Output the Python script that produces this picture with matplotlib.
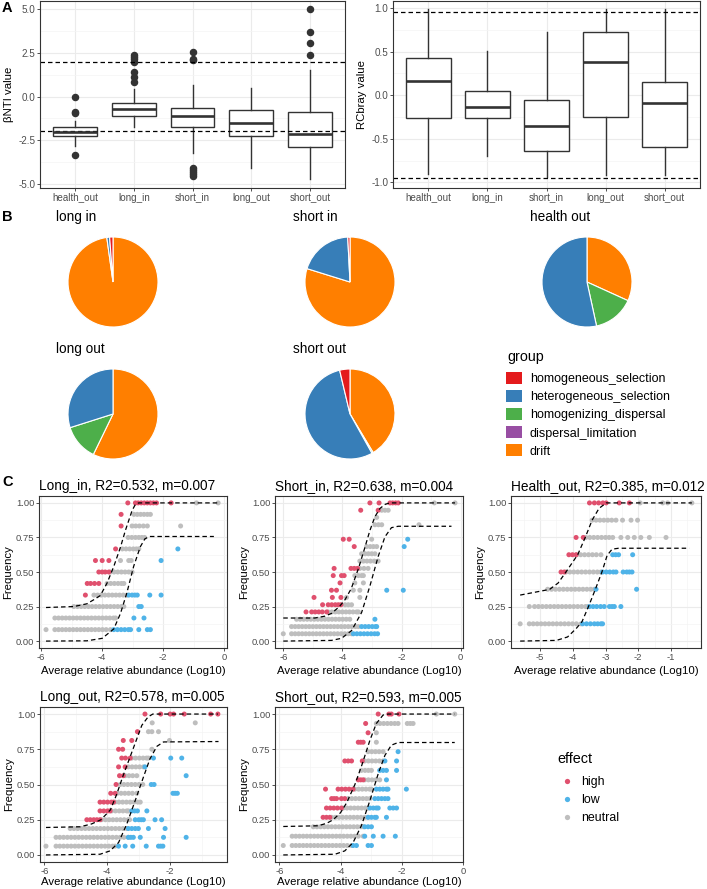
import matplotlib
matplotlib.use('Agg')
import matplotlib.pyplot as plt
from matplotlib.patches import Patch
from matplotlib.lines import Line2D
import numpy as np

plt.rcParams['font.family'] = ['Liberation Sans', 'DejaVu Sans']

# ---------------- Panel A data ----------------
groups = ['health_out', 'long_in', 'short_in', 'long_out', 'short_out']
bnti_q1 = [-2.27, -1.12, -1.73, -2.27, -2.90]
bnti_med = [-2.03, -0.70, -1.12, -1.50, -2.13]
bnti_q3 = [-1.73, -0.35, -0.68, -0.79, -0.89]
bnti_lo = [-2.84, -1.75, -3.26, -4.08, -4.75]
bnti_hi = [-1.41, 0.45, 0.66, 0.51, 1.52]
bnti_out = [[0.0, -0.89, -0.97, -3.37],
            [0.83, 1.14, 1.42, 2.0, 2.13, 2.27, 2.38],
            [2.55, 2.15, 2.10, -4.08, -4.20, -4.32, -4.45, -4.56],
            [],
            [5.0, 3.70, 3.07, 2.36]]
bnti_thresholds = [2, -2]

rc_q1 = [-0.26, -0.26, -0.64, -0.25, -0.59]
rc_med = [0.166, -0.14, -0.35, 0.38, -0.09]
rc_q3 = [0.43, 0.05, -0.06, 0.73, 0.15]
rc_lo = [-0.91, -0.70, -0.94, -0.92, -0.92]
rc_hi = [0.99, 0.51, 0.73, 0.99, 0.99]
rc_thresholds = [0.95, -0.95]

# ---------------- Panel B data ----------------
group_names = ['homogeneous_selection', 'heterogeneous_selection',
               'homogenizing_dispersal', 'dispersal_limitation', 'drift']
group_colors = ['#E41A1C', '#377EB8', '#4DAF4A', '#984EA3', '#FF7F00']
pie_titles = ['long in', 'short in', 'health out', 'long out', 'short out']
pie_long_in = [0.012, 0.010, 0.0, 0.0, 0.978]
pie_short_in = [0.008, 0.194, 0.0, 0.0, 0.798]
pie_health_out = [0.0, 0.534, 0.148, 0.0, 0.318]
pie_long_out = [0.0, 0.299, 0.129, 0.0, 0.572]
pie_short_out = [0.037, 0.544, 0.005, 0.0, 0.414]

# ---------------- Panel C data ----------------
# rows: (frequency, [log10 mean relative abundance ...])
long_in_title = 'Long_in, R2=0.532, m=0.007'
long_in_high = [
    (1.000, [-3.16, -2.91, -2.82, -2.72, -2.62, -2.52, -2.42, -2.32, -2.22, -1.74]),
    (0.917, [-3.38]), (0.833, [-3.38]), (0.667, [-3.56]),
    (0.583, [-4.22, -4.00, -3.78]),
    (0.500, [-4.11, -4.00, -3.90, -3.78]),
    (0.417, [-4.49, -4.38, -4.25, -4.11]),
    (0.333, [-4.55])]
long_in_low = [
    (0.667, [-1.52]), (0.583, [-2.07]),
    (0.333, [-3.13, -3.02, -2.93, -2.85, -2.44, -2.07]),
    (0.250, [-2.80, -2.72]),
    (0.167, [-2.96, -2.63]),
    (0.083, [-3.62, -3.50, -3.38, -3.26, -3.14, -3.07, -2.80, -2.52, -2.42])]
long_in_neutral = [
    (1.000, [-0.91, -0.20]),
    (0.917, [-2.96, -2.85, -2.74, -2.63, -2.52, -2.42]),
    (0.833, [-3.02, -2.90, -2.78, -2.65, -2.52, -1.43]),
    (0.750, [-3.15, -3.03, -2.91, -2.80, -2.70, -2.61]),
    (0.667, [-3.34, -3.22, -3.10, -2.98, -2.88, -2.80]),
    (0.583, [-3.40, -3.13, -3.05]),
    (0.500, [-3.73, -3.61, -3.49, -3.37, -3.25, -3.13, -3.02]),
    (0.417, [-3.84, -3.72, -3.60, -3.48, -3.37, -3.29]),
    (0.333, [-4.27, -4.15, -4.03, -3.91, -3.79, -3.67, -3.55, -3.43, -3.31, -3.19]),
    (0.250, [-4.93, -4.81, -4.69, -4.57, -4.45, -4.33, -4.21, -4.09, -3.97, -3.85,
             -3.73, -3.61, -3.49, -3.37, -3.29]),
    (0.167, [-5.55, -5.43, -5.31, -5.19, -5.07, -4.95, -4.83, -4.71, -4.59, -4.47,
             -4.35, -4.23, -4.11, -3.99, -3.87, -3.75, -3.63, -3.56]),
    (0.083, [-5.84, -5.55, -5.43, -5.31, -5.19, -5.07, -4.95, -4.83, -4.71, -4.59,
             -4.47, -4.35, -4.23, -4.11, -3.99, -3.87, -3.73])]
long_in_upper = [(-5.84, 0.243), (-4.93, 0.25), (-4.50, 0.27), (-4.27, 0.30), (-4.06, 0.33),
                 (-3.84, 0.42), (-3.62, 0.54), (-3.40, 0.68), (-3.24, 0.80), (-3.02, 0.945),
                 (-2.91, 0.99), (-2.80, 1.0), (-0.20, 1.0)]
long_in_lower = [(-5.84, 0.0), (-4.50, 0.002), (-4.00, 0.02), (-3.62, 0.088), (-3.40, 0.20),
                 (-3.19, 0.35), (-2.97, 0.54), (-2.75, 0.683), (-2.60, 0.74), (-2.45, 0.757),
                 (-0.34, 0.757)]

short_in_title = 'Short_in, R2=0.638, m=0.004'
short_in_high = [
    (1.000, [-3.07, -2.76, -2.39, -2.30, -2.20, -2.11]),
    (0.947, [-3.38, -2.79]),
    (0.737, [-3.97, -3.77]),
    (0.684, [-3.60]),
    (0.526, [-4.28, -3.71, -3.60, -3.49]),
    (0.474, [-4.31, -4.03, -3.94]),
    (0.421, [-4.08]),
    (0.368, [-4.37, -4.20]),
    (0.316, [-4.96, -4.34, -4.05]),
    (0.263, [-4.67, -4.48, -4.36, -4.24, -4.14, -4.05]),
    (0.211, [-5.23, -5.04, -4.92, -4.80, -4.68, -4.53])]
short_in_low = [
    (0.737, [-1.79]), (0.684, [-1.91]),
    (0.368, [-2.50, -1.94]),
    (0.158, [-2.90]),
    (0.105, [-3.35, -3.23, -3.11, -2.99, -2.88, -2.84]),
    (0.053, [-3.63, -3.51, -3.39, -3.27, -3.15, -3.03, -2.91, -2.81])]
short_in_neutral = [
    (1.000, [-0.89, -0.19]),
    (0.947, [-2.67, -2.56, -2.45]),
    (0.895, [-2.84]),
    (0.842, [-2.90, -2.78, -2.67, -1.41]),
    (0.737, [-3.01]),
    (0.684, [-3.18, -3.06, -2.95, -2.84]),
    (0.632, [-3.35, -3.23, -3.12, -3.01, -2.90]),
    (0.579, [-3.41, -3.29, -3.17, -3.05, -2.92, -2.79]),
    (0.526, [-3.41, -3.27, -3.13]),
    (0.474, [-3.58, -3.46, -3.35, -3.29]),
    (0.421, [-3.58, -3.29]),
    (0.368, [-3.63, -3.41]),
    (0.316, [-3.86, -3.41]),
    (0.263, [-3.91, -3.80, -3.69]),
    (0.211, [-4.48, -4.36, -4.24, -4.12, -4.00, -3.88, -3.76, -3.64, -3.52, -3.46]),
    (0.158, [-5.55, -5.43, -5.31, -5.19, -5.07, -4.95, -4.83, -4.71, -4.59, -4.47,
             -4.35, -4.23, -4.11, -3.99, -3.87, -3.75]),
    (0.105, [-5.72, -5.60, -5.48, -5.36, -5.24, -5.12, -5.00, -4.88, -4.76, -4.64,
             -4.52, -4.40, -4.28, -4.16, -4.04, -3.92, -3.80, -3.68, -3.56, -3.46]),
    (0.053, [-6.00, -5.72, -5.60, -5.48, -5.36, -5.24, -5.12, -5.00, -4.88, -4.76,
             -4.64, -4.52, -4.40, -4.28, -4.16, -4.04, -3.92, -3.80, -3.69])]
short_in_upper = [(-6.00, 0.167), (-4.93, 0.167), (-4.60, 0.18), (-4.37, 0.20), (-4.10, 0.25),
                  (-3.91, 0.30), (-3.70, 0.38), (-3.45, 0.53), (-3.25, 0.67), (-3.07, 0.80),
                  (-2.90, 0.90), (-2.73, 0.96), (-2.55, 0.99), (-2.39, 1.0), (-0.19, 1.0)]
short_in_lower = [(-6.00, 0.0), (-4.37, 0.005), (-4.03, 0.02), (-3.69, 0.076), (-3.35, 0.207),
                  (-3.07, 0.398), (-2.79, 0.612), (-2.56, 0.755), (-2.34, 0.821), (-2.11, 0.831),
                  (-0.31, 0.831)]

health_out_title = 'Health_out, R2=0.385, m=0.012'
health_out_high = [
    (1.000, [-3.49, -3.34, -3.21, -3.08, -2.98, -2.58, -2.27]),
    (0.750, [-3.90, -3.68]),
    (0.625, [-4.12, -4.01, -3.90]),
    (0.500, [-4.36, -4.26])]
health_out_low = [
    (0.625, [-2.78, -2.69, -2.60, -2.17]),
    (0.500, [-3.09, -2.98, -2.87, -2.76, -2.68, -2.46, -2.35, -2.27, -2.19]),
    (0.375, [-3.29, -2.05]),
    (0.250, [-3.49, -3.38, -3.27, -3.15, -3.04, -2.88, -2.80, -2.73, -2.53]),
    (0.125, [-3.70, -3.58, -3.46, -3.34, -3.24, -3.14, -3.09])]
health_out_neutral = [
    (1.000, [-1.94, -1.25, -1.10, -0.36]),
    (0.875, [-3.41, -3.29, -3.17, -3.05, -2.93, -2.81, -2.68, -2.48, -2.22, -2.02]),
    (0.750, [-3.60, -3.48, -3.36, -3.24, -3.12, -3.00, -2.89, -2.78, -2.53, -2.32,
             -2.12, -1.92, -1.66, -1.15]),
    (0.625, [-3.88, -3.76, -3.64, -3.52, -3.40, -3.28, -3.14]),
    (0.500, [-4.21, -4.09, -3.97, -3.85, -3.73, -3.61, -3.49, -3.37, -3.25, -3.14]),
    (0.375, [-4.77, -4.65, -4.53, -4.41, -4.29, -4.17, -4.05, -3.93, -3.81, -3.69,
             -3.57, -3.45, -3.34]),
    (0.250, [-5.33, -5.17, -5.05, -4.93, -4.81, -4.69, -4.57, -4.45, -4.33, -4.21,
             -4.09, -3.97, -3.85, -3.73, -3.61, -3.54]),
    (0.125, [-5.61, -5.33, -5.21, -5.09, -4.97, -4.85, -4.73, -4.61, -4.49, -4.37,
             -4.25, -4.13, -4.01, -3.89, -3.75])]
health_out_upper = [(-5.61, 0.333), (-4.71, 0.374), (-4.45, 0.42), (-4.21, 0.50),
                    (-3.85, 0.625), (-3.62, 0.75), (-3.41, 0.875), (-3.20, 0.96),
                    (-2.98, 1.0), (-0.36, 1.0)]
health_out_lower = [(-5.61, 0.0), (-4.50, 0.005), (-4.16, 0.03), (-3.90, 0.09), (-3.72, 0.14),
                    (-3.52, 0.25), (-3.31, 0.375), (-3.11, 0.50), (-2.95, 0.62), (-2.80, 0.665),
                    (-2.60, 0.672), (-0.44, 0.672)]

long_out_title = 'Long_out, R2=0.578, m=0.005'
long_out_high = [
    (1.000, [-2.80, -2.30, -2.00, -1.89, -1.55, -0.71, -0.48]),
    (0.875, [-3.04]),
    (0.8125, [-3.49, -3.22]),
    (0.750, [-3.64, -3.51]),
    (0.6875, [-3.54, -3.42, -3.27]),
    (0.625, [-3.64, -3.43]),
    (0.5625, [-3.61, -3.49]),
    (0.500, [-3.72]),
    (0.4375, [-3.89, -3.75]),
    (0.375, [-4.23, -4.11, -3.99, -3.87, -3.80]),
    (0.3125, [-4.23, -4.11, -3.99, -3.91]),
    (0.250, [-4.65, -4.54, -4.43, -4.33, -4.23])]
long_out_low = [
    (0.6875, [-2.53, -1.98, -1.63]),
    (0.625, [-2.80]),
    (0.5625, [-1.49]),
    (0.500, [-2.60, -2.51]),
    (0.4375, [-1.91, -1.84, -1.77]),
    (0.3125, [-3.22, -3.13, -3.04, -2.74]),
    (0.250, [-3.11, -3.00, -2.92, -2.85, -2.48, -2.27]),
    (0.1875, [-3.33, -3.22, -3.11, -3.01, -2.69, -2.16]),
    (0.125, [-3.33, -3.25, -3.17, -2.95, -2.21, -1.49]),
    (0.0625, [-3.64, -3.43, -3.19, -2.76, -2.37, -2.30, -2.23])]
long_out_neutral = [
    (0.9375, [-2.57, -1.20]),
    (0.875, [-2.69, -2.58, -2.37]),
    (0.8125, [-2.02]),
    (0.750, [-2.58]),
    (0.6875, [-3.22, -3.10, -2.98, -2.86, -2.75, -2.69]),
    (0.625, [-3.33, -3.21, -3.09, -2.97, -2.85]),
    (0.5625, [-3.43, -3.31, -3.19, -3.06]),
    (0.500, [-3.59, -3.47, -3.35, -3.23, -3.11, -2.99, -2.87]),
    (0.4375, [-3.68, -3.56, -3.44, -3.32, -3.20, -3.06]),
    (0.375, [-3.75, -3.63, -3.51, -3.39, -3.27, -3.15, -3.03, -2.95]),
    (0.3125, [-3.86, -3.74, -3.62, -3.50, -3.38, -3.33]),
    (0.250, [-4.18, -4.06, -3.94, -3.82, -3.70, -3.58, -3.46, -3.34, -3.29]),
    (0.1875, [-5.18, -5.06, -4.94, -4.82, -4.70, -4.58, -4.46, -4.34, -4.22, -4.10,
              -3.98, -3.86, -3.74, -3.62, -3.50, -3.38]),
    (0.125, [-5.63, -5.51, -5.39, -5.27, -5.15, -5.03, -4.91, -4.79, -4.67, -4.55,
             -4.43, -4.31, -4.19, -4.07, -3.95, -3.83, -3.71, -3.59, -3.47, -3.33]),
    (0.0625, [-5.95, -5.63, -5.51, -5.39, -5.27, -5.15, -5.03, -4.91, -4.79, -4.67,
              -4.55, -4.43, -4.31, -4.19, -4.07, -3.95, -3.83, -3.75])]
long_out_upper = [(-5.95, 0.195), (-4.86, 0.20), (-4.50, 0.22), (-4.20, 0.25), (-3.90, 0.32),
                  (-3.70, 0.43), (-3.50, 0.56), (-3.30, 0.68), (-3.10, 0.80), (-2.90, 0.92),
                  (-2.70, 0.98), (-2.55, 1.0), (-0.48, 1.0)]
long_out_lower = [(-5.95, 0.0), (-4.23, 0.005), (-3.91, 0.029), (-3.64, 0.088), (-3.38, 0.219),
                  (-3.11, 0.386), (-2.85, 0.552), (-2.64, 0.683), (-2.42, 0.771), (-2.21, 0.802),
                  (-0.46, 0.805)]

short_out_title = 'Short_out, R2=0.593, m=0.005'
short_out_high = [
    (1.000, [-2.77, -2.42, -2.34, -2.09]),
    (0.933, [-3.18]),
    (0.867, [-3.10]),
    (0.800, [-3.42, -3.34, -3.26]),
    (0.667, [-3.86, -3.75, -3.64, -3.29]),
    (0.533, [-3.42, -3.34, -3.26]),
    (0.467, [-4.49, -4.08, -3.96, -3.84, -3.72, -3.59]),
    (0.400, [-4.29, -4.21, -4.13, -3.97, -3.86]),
    (0.333, [-4.46, -4.34, -4.22, -4.10, -3.97]),
    (0.267, [-4.57, -4.46, -4.35])]
short_out_low = [
    (0.733, [-2.12]),
    (0.667, [-2.55, -2.17]),
    (0.600, [-2.72, -2.61, -2.50, -2.17]),
    (0.533, [-2.50]),
    (0.467, [-2.83, -2.72, -2.61, -2.50, -2.45, -1.85]),
    (0.400, [-2.88, -2.77, -2.66, -2.55, -2.45]),
    (0.333, [-3.04, -2.93, -2.83, -2.77, -2.39, -2.28, -2.17]),
    (0.267, [-3.10, -2.99, -2.88, -2.83, -2.50]),
    (0.200, [-3.21, -3.10, -2.99]),
    (0.133, [-3.21, -2.93, -2.61, -2.21]),
    (0.067, [-3.59, -3.48, -3.10, -2.99])]
short_out_neutral = [
    (1.000, [-0.87, -0.27]),
    (0.933, [-2.83, -2.71, -2.59, -2.47, -2.35, -2.23, -2.12, -1.82, -1.72, -1.63]),
    (0.867, [-2.83]),
    (0.800, [-2.83]),
    (0.733, [-3.10, -2.98, -2.86, -2.74, -2.61]),
    (0.667, [-3.21, -3.09, -2.97, -2.85, -2.73, -2.61]),
    (0.600, [-3.32, -3.20, -3.09, -2.99]),
    (0.533, [-3.21, -3.09, -2.97, -2.85, -2.72]),
    (0.467, [-3.53, -3.41, -3.29, -3.17, -3.05, -2.99]),
    (0.400, [-3.75, -3.63, -3.51, -3.39, -3.27, -3.15, -3.04]),
    (0.333, [-3.91, -3.79, -3.67, -3.55, -3.43, -3.31, -3.19, -3.10]),
    (0.267, [-4.29, -4.17, -4.05, -3.93, -3.81, -3.69, -3.57, -3.45, -3.33, -3.21, -3.10]),
    (0.200, [-4.89, -4.77, -4.65, -4.53, -4.41, -4.29, -4.17, -4.05, -3.93, -3.81,
             -3.69, -3.57, -3.45, -3.33, -3.26]),
    (0.133, [-5.58, -5.46, -5.34, -5.22, -5.10, -4.98, -4.86, -4.74, -4.62, -4.50,
             -4.38, -4.26, -4.14, -4.02, -3.90, -3.78, -3.66, -3.54, -3.42, -3.26]),
    (0.067, [-5.87, -5.58, -5.46, -5.34, -5.22, -5.10, -4.98, -4.86, -4.74, -4.62,
             -4.50, -4.38, -4.26, -4.14, -4.02, -3.90, -3.78, -3.64])]
short_out_upper = [(-5.87, 0.202), (-4.73, 0.207), (-4.45, 0.225), (-4.24, 0.25), (-4.00, 0.30),
                   (-3.80, 0.37), (-3.53, 0.50), (-3.30, 0.64), (-3.04, 0.814), (-2.83, 0.933),
                   (-2.61, 0.993), (-2.45, 1.0), (-0.27, 1.0)]
short_out_lower = [(-5.87, 0.0), (-4.18, 0.005), (-3.86, 0.029), (-3.59, 0.088), (-3.32, 0.207),
                   (-3.04, 0.386), (-2.77, 0.576), (-2.55, 0.707), (-2.34, 0.779), (-2.12, 0.798),
                   (-0.27, 0.798)]

effect_names = ['high', 'low', 'neutral']
effect_colors = ['#E0506E', '#4FB3E8', '#BEBEBE']

# ---------------- figure ----------------
W, H = 707, 889
fig = plt.figure(figsize=(W / 100, H / 100), dpi=100)


def add_ax(x0, y0, x1, y1):
    return fig.add_axes([x0 / W, 1 - y1 / H, (x1 - x0) / W, (y1 - y0) / H])


DARK = '#333333'
TICKC = '#4D4D4D'
DASH = (0, (3.6, 2.4))


def style(ax, lsize=6.9):
    for s in ax.spines.values():
        s.set_color(DARK)
        s.set_linewidth(0.8)
    ax.tick_params(which='major', length=2.0, width=0.6, color=DARK,
                   labelcolor=TICKC, labelsize=lsize, pad=1.3)
    ax.tick_params(which='minor', length=0, width=0)
    ax.grid(which='major', color='#EBEBEB', lw=0.8)
    ax.grid(which='minor', color='#F4F4F4', lw=0.5)
    ax.set_axisbelow(True)


def boxpanel(ax, q1, med, q3, lo, hi, fliers, hl, ylabel, ylim, yt, ytl, ymin):
    stats = []
    for i in range(len(groups)):
        stats.append(dict(med=med[i], q1=q1[i], q3=q3[i], whislo=lo[i], whishi=hi[i],
                          fliers=fliers[i], label=groups[i]))
    ax.bxp(stats, positions=range(1, 6), widths=0.75, patch_artist=True, showcaps=False,
           boxprops=dict(facecolor='white', edgecolor=DARK, lw=1.0),
           medianprops=dict(color=DARK, lw=1.9, solid_capstyle='butt'),
           whiskerprops=dict(color=DARK, lw=1.0),
           flierprops=dict(marker='o', markerfacecolor=DARK, markeredgecolor=DARK,
                           markersize=4.4, ls='none'))
    for h in hl:
        ax.axhline(h, color='black', lw=0.9, ls=DASH)
    ax.set_xlim(0.4, 5.6)
    ax.set_ylim(*ylim)
    ax.set_xticks(range(1, 6))
    ax.set_xticklabels(groups)
    ax.set_yticks(yt)
    ax.set_yticklabels(ytl)
    ax.set_yticks(ymin, minor=True)
    ax.set_ylabel(ylabel, fontsize=8.2, labelpad=3)
    style(ax, 7.1)
    ax.grid(axis='x', which='minor', visible=False)


axA1 = add_ax(40, 1, 345, 188)
boxpanel(axA1, bnti_q1, bnti_med, bnti_q3, bnti_lo, bnti_hi, bnti_out, bnti_thresholds,
         '\u03b2NTI value', (-5.24, 5.47), [-5, -2.5, 0, 2.5, 5],
         ['-5.0', '-2.5', '0.0', '2.5', '5.0'], [-3.75, -1.25, 1.25, 3.75])
axA2 = add_ax(393, 1, 700, 188)
boxpanel(axA2, rc_q1, rc_med, rc_q3, rc_lo, rc_hi, [[] for _ in groups], rc_thresholds,
         'RCbray value', (-1.065, 1.08), [-1.0, -0.5, 0.0, 0.5, 1.0],
         ['-1.0', '-0.5', '0.0', '0.5', '1.0'], [-0.75, -0.25, 0.25, 0.75])

fig.text(2 / W, 1 - 8 / H, 'A', fontsize=10.5, fontweight='bold', va='center', ha='left')
fig.text(2 / W, 1 - 217 / H, 'B', fontsize=10.5, fontweight='bold', va='center', ha='left')
fig.text(2 / W, 1 - 482 / H, 'C', fontsize=10.5, fontweight='bold', va='center', ha='left')

# ---------------- pies ----------------
pie_data = [pie_long_in, pie_short_in, pie_health_out, pie_long_out, pie_short_out]
pie_centers = [(113, 282), (350, 282), (587, 282), (113, 414), (350, 414)]
R = 45
draw_order = [4, 3, 2, 1, 0]  # ggplot stacking: drift first, clockwise from 12 o'clock
for vals, (cx, cy), title in zip(pie_data, pie_centers, pie_titles):
    ax = add_ax(cx - R, cy - R, cx + R, cy + R)
    v = [vals[i] for i in draw_order if vals[i] > 0]
    c = [group_colors[i] for i in draw_order if vals[i] > 0]
    ax.pie(v, colors=c, startangle=90, counterclock=False, radius=1.0,
           wedgeprops=dict(edgecolor='white', linewidth=0.8))
    ax.set_xlim(-1.0, 1.0)
    ax.set_ylim(-1.0, 1.0)
    ax.set_aspect('auto')
    ax.axis('off')
    fig.text((cx - 57) / W, 1 - (cy - 65) / H, title, fontsize=9.8, va='center', ha='left')

fig.text(507 / W, 1 - 357 / H, 'group', fontsize=10.3, va='center', ha='left')
handles = [Patch(facecolor=col, edgecolor='none') for col in group_colors]
fig.legend(handles, group_names, loc='upper left',
           bbox_to_anchor=(506 / W, 1 - 372 / H), frameon=False, fontsize=9,
           handlelength=1.28, handleheight=1.12,
           handletextpad=0.62, labelspacing=0.38, borderpad=0, borderaxespad=0)

# ---------------- scatter panels ----------------
def flatten(rows):
    xs, ys = [], []
    for y, xl in rows:
        for x in xl:
            xs.append(x)
            ys.append(y)
    return xs, ys


scatter_panels = [
    ((39, 496, 227, 648), long_in_title, long_in_neutral, long_in_high, long_in_low,
     long_in_upper, long_in_lower, (-6.07, 0.09), [-6, -4, -2, 0], [-5, -3, -1], 3.5),
    ((275, 496, 463, 648), short_in_title, short_in_neutral, short_in_high, short_in_low,
     short_in_upper, short_in_lower, (-6.28, 0.08), [-6, -4, -2, 0], [-5, -3, -1], 3.5),
    ((511, 496, 701, 648), health_out_title, health_out_neutral, health_out_high,
     health_out_low, health_out_upper, health_out_lower, (-5.89, -0.08),
     [-5, -4, -3, -2, -1], [-5.5, -4.5, -3.5, -2.5, -1.5, -0.5], 3.5),
    ((40, 707, 227, 862), long_out_title, long_out_neutral, long_out_high, long_out_low,
     long_out_upper, long_out_lower, (-6.14, -0.19), [-6, -4, -2], [-5, -3, -1], 0.8),
    ((275, 707, 463, 862), short_out_title, short_out_neutral, short_out_high, short_out_low,
     short_out_upper, short_out_lower, (-6.14, 0.0), [-6, -4, -2, 0], [-5, -3, -1], 0.8),
]

for (x0, y0, x1, y1), title, neu, hig, low, up, lo, xlim, xt, xmin, lp in scatter_panels:
    ax = add_ax(x0, y0, x1, y1)
    for rows, col in ((neu, effect_colors[2]), (hig, effect_colors[0]), (low, effect_colors[1])):
        xs, ys = flatten(rows)
        ax.scatter(xs, ys, s=13, color=col, edgecolors='none', zorder=3)
    for curve in (up, lo):
        cx = [p[0] for p in curve]
        cy = [p[1] for p in curve]
        ax.plot(cx, cy, color='black', lw=0.9, ls=DASH, zorder=4)
    ax.set_xlim(*xlim)
    ax.set_ylim(-0.05, 1.05)
    ax.set_xticks(xt)
    ax.set_xticklabels([str(t) for t in xt])
    ax.set_xticks(xmin, minor=True)
    ax.set_yticks([0, 0.25, 0.5, 0.75, 1.0])
    ax.set_yticklabels(['0.00', '0.25', '0.50', '0.75', '1.00'])
    ax.set_yticks([0.125, 0.375, 0.625, 0.875], minor=True)
    ax.set_ylabel('Frequency', fontsize=8.2, labelpad=2)
    ax.set_xlabel('Average relative abundance (Log10)', fontsize=8.2, labelpad=lp)
    ax.set_title(title, fontsize=9.8, loc='left', pad=4)
    style(ax, 6.8)

fig.text(557 / W, 1 - 759 / H, 'effect', fontsize=10.4, va='center', ha='left')
eh = [Line2D([], [], marker='o', ls='none', markerfacecolor=c, markeredgecolor='none',
             markersize=3.8) for c in effect_colors]
fig.legend(eh, effect_names, loc='upper left',
           bbox_to_anchor=(557 / W, 1 - 776 / H), frameon=False, fontsize=8.9,
           handlelength=1.6, handletextpad=0.32,
           labelspacing=0.5, borderpad=0, borderaxespad=0)

fig.savefig('out.png', dpi=100)
